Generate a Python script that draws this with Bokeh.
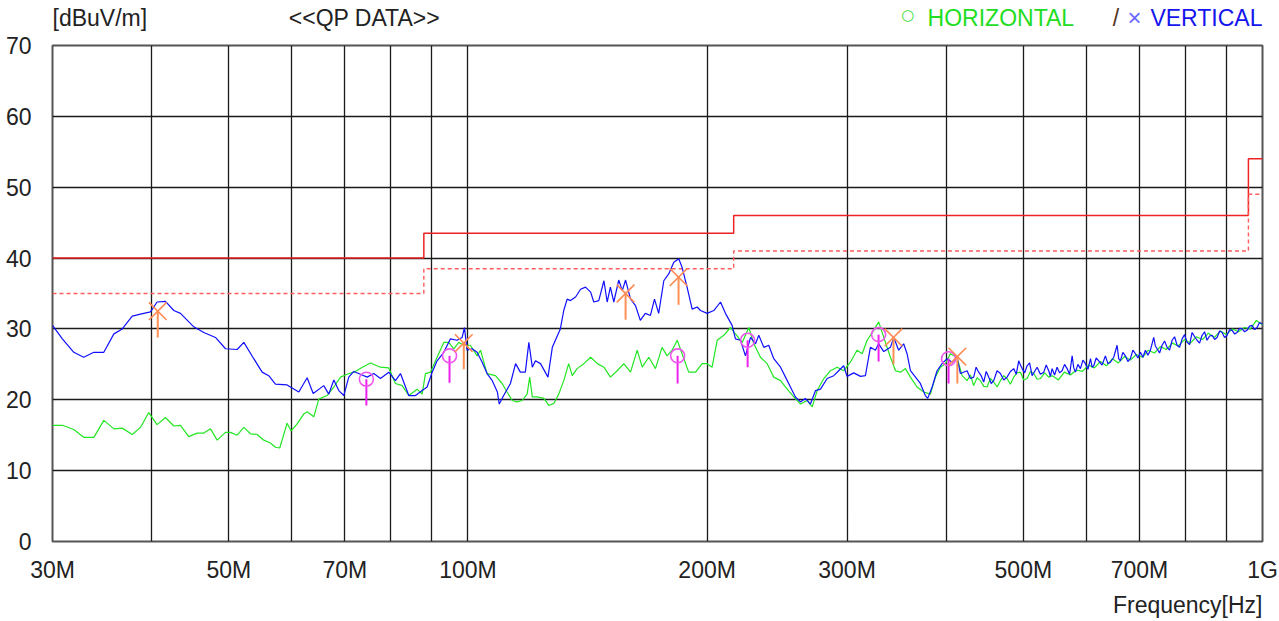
from bokeh.plotting import figure
from bokeh.layouts import column
from bokeh.models import FixedTicker, Title
from bokeh.core.properties import value
from bokeh.embed import file_html
from bokeh.resources import INLINE

# ---------------- data (frequencies in MHz, levels in dBuV/m) ----------------
v_freq = [30.0, 30.87, 31.91, 32.84, 33.82, 34.81, 35.84, 36.72, 37.8, 38.71, 39.85, 40.62, 41.62,
          42.64, 43.47, 45.18, 46.51, 48.11, 49.53, 51.23, 52.23, 53.76, 55.08, 56.14, 57.24, 59.21,
          61.25, 62.75, 63.86, 65.85, 66.81, 67.79, 68.78, 69.78, 70.79, 71.83, 73.23, 74.66, 76.12,
          77.61, 79.49, 81.05, 82.24, 84.24, 85.89, 87.57, 88.84, 90.15, 91.45, 93.23, 95.06, 96.90,
          98.33, 98.99, 99.74, 101.2, 102.7, 104.2, 105.7, 107.3, 108.9, 109.5, 110.9, 113.1, 114.8,
          116.4, 118.1, 119.3, 120.5, 121.6, 123.4, 126.1, 127.7, 130.7, 132.0, 133.3, 134.6, 136.6,
          138.6, 140.6, 142.7, 144.0, 146.1, 148.3, 149.7, 151.1, 152.6, 154.8, 156.4, 157.9, 160.2,
          162.5, 164.8, 167.2, 169.7, 171.7, 173.8, 176.4, 179.0, 181.6, 184.2, 186.0, 188.7, 191.5,
          194.3, 196.2, 200.0, 203.9, 207.9, 210.9, 215.0, 217.1, 220.3, 223.5, 226.8, 230.1, 232.3,
          235.7, 239.1, 242.6, 247.4, 251.0, 254.6, 258.3, 262.1, 265.9, 269.8, 273.8, 277.8, 283.2,
          288.7, 292.8, 297.1, 300.0, 305.9, 311.9, 316.4, 321.0, 325.7, 328.8, 333.7, 340.2, 343.5,
          348.4, 353.5, 357.0, 360.5, 365.8, 371.0, 376.4, 379.0, 383.9, 389.4, 395.1, 400.9, 406.7,
          412.6, 416.7, 424.8, 428.9, 433.0, 436.1, 439.3, 442.5, 445.8, 449.0, 452.3, 455.6, 458.9,
          463.4, 467.9, 472.4, 477.0, 481.6, 486.3, 489.8, 493.4, 495.8, 498.3, 501.9, 505.5, 509.2,
          512.9, 516.6, 520.4, 525.4, 530.5, 534.3, 538.2, 540.8, 543.5, 547.4, 551.4, 555.4, 559.5,
          563.5, 567.6, 571.8, 576.0, 578.7, 581.5, 585.7, 590.0, 594.3, 598.6, 603.0, 607.4, 610.3,
          613.2, 617.6, 622.1, 628.2, 634.3, 638.9, 643.5, 649.8, 656.1, 659.2, 662.4, 667.2, 672.1,
          677.0, 681.9, 686.9, 691.9, 697.0, 702.0, 707.1, 712.2, 717.4, 722.6, 726.1, 729.6, 733.1,
          736.7, 742.1, 747.5, 752.9, 758.4, 763.9, 769.5, 775.1, 780.7, 786.4, 792.2, 797.9, 803.7,
          809.6, 815.5, 821.4, 827.3, 833.3, 839.4, 845.5, 851.6, 857.8, 864.1, 870.4, 876.7, 883.1,
          889.5, 895.9, 902.4, 909.0, 915.7, 922.3, 929.0, 935.8, 942.6, 949.4, 956.2, 963.2, 970.3,
          977.3, 984.4, 991.5, 1000.0]
v_level = [30.5, 28.6, 26.7, 26.0, 26.7, 26.7, 29.3, 30.0, 31.8, 32.1, 32.4, 33.8, 33.9,
           32.6, 32.2, 30.3, 29.5, 28.8, 27.2, 27.1, 28.1, 25.8, 23.9, 23.4, 22.2, 22.1,
           21.1, 23.1, 20.9, 22.0, 20.8, 22.8, 21.3, 20.6, 23.2, 24.0, 23.6, 23.2, 23.7,
           23.0, 23.9, 22.7, 23.7, 20.6, 20.6, 21.3, 21.8, 23.9, 25.5, 26.7, 28.6, 28.4,
           28.8, 30.2, 27.0, 27.2, 26.7, 25.3, 23.7, 22.7, 21.1, 19.4, 20.6, 22.3, 25.1,
           23.9, 23.9, 28.1, 24.6, 25.5, 25.1, 23.2, 27.4, 30.0, 32.6, 34.2, 34.0, 34.5,
           35.6, 35.9, 35.2, 33.8, 34.0, 36.8, 33.8, 35.9, 33.8, 36.9, 35.4, 36.9, 34.2,
           33.3, 31.2, 32.2, 31.9, 34.2, 32.2, 36.8, 37.8, 39.4, 39.9, 38.7, 35.9, 32.8,
           33.1, 32.6, 32.2, 32.6, 33.8, 32.2, 30.5, 28.6, 28.4, 26.2, 28.8, 27.9, 29.1,
           27.4, 27.7, 25.8, 24.6, 23.2, 21.8, 20.4, 19.7, 20.2, 19.4, 21.3, 21.5, 23.0,
           23.4, 24.1, 24.8, 23.3, 23.8, 23.3, 23.4, 27.4, 27.0, 27.9, 26.8, 27.4, 28.8,
           27.0, 27.9, 26.5, 24.1, 23.2, 22.3, 20.6, 20.2, 21.8, 24.1, 25.1, 25.8, 25.3,
           26.0, 23.7, 24.1, 23.0, 23.2, 24.6, 23.9, 23.4, 22.5, 24.0, 23.2, 22.3, 22.7,
           24.1, 23.7, 22.8, 23.2, 24.0, 24.4, 23.6, 25.5, 24.9, 24.4, 23.8, 24.8, 25.2,
           23.4, 24.0, 24.6, 23.6, 23.9, 24.9, 24.1, 23.3, 24.4, 23.5, 24.6, 23.8, 24.1,
           25.0, 24.4, 23.6, 26.2, 24.5, 23.9, 25.0, 24.4, 25.6, 25.1, 24.3, 25.8, 24.6,
           24.8, 25.9, 25.5, 24.9, 26.2, 25.1, 25.3, 26.0, 27.7, 25.8, 25.5, 26.7, 26.2,
           25.4, 25.8, 27.0, 26.5, 25.9, 26.7, 26.0, 27.0, 26.3, 27.0, 27.9, 28.8, 27.6,
           27.2, 26.6, 27.7, 28.3, 27.4, 27.0, 28.4, 28.9, 27.7, 27.4, 28.6, 29.2, 28.1,
           27.8, 29.5, 28.9, 28.4, 28.0, 29.1, 29.6, 28.4, 29.0, 29.1, 28.5, 28.8, 29.7,
           29.5, 28.8, 29.1, 29.9, 29.8, 29.3, 29.5, 30.1, 30.0, 29.6, 29.8, 30.4, 30.5,
           29.9, 30.2, 30.9, 30.7]

h_freq = [30.0, 30.87, 31.91, 32.84, 33.82, 34.81, 35.84, 36.72, 37.8, 38.71, 39.65, 40.62, 41.62,
          42.64, 43.47, 44.52, 45.62, 46.51, 47.42, 48.35, 49.53, 50.25, 51.23, 52.23, 53.25, 54.29,
          55.34, 56.42, 57.24, 57.96, 59.21, 59.91, 60.96, 62.15, 62.75, 63.97, 64.90, 66.49, 67.79,
          69.12, 70.46, 71.83, 73.94, 75.39, 77.61, 79.49, 81.05, 82.65, 84.24, 86.31, 87.57, 88.41,
          89.71, 91.45, 93.23, 94.59, 95.97, 97.37, 98.79, 100.7, 102.7, 103.7, 105.7, 108.3, 110.4,
          112.0, 113.7, 115.3, 117.0, 118.7, 119.6, 120.5, 122.2, 124.6, 126.4, 128.3, 130.1, 132.0,
          133.9, 135.3, 137.2, 139.9, 142.7, 145.5, 148.3, 151.1, 154.1, 157.1, 160.2, 163.3, 165.7,
          168.9, 172.2, 175.5, 178.1, 180.7, 183.4, 186.0, 189.6, 193.4, 197.1, 200.0, 202.9, 205.9,
          209.9, 214.0, 217.1, 221.4, 225.7, 229.0, 233.4, 238.0, 242.6, 247.4, 252.2, 257.1, 262.1,
          267.2, 271.2, 275.1, 280.5, 285.9, 291.5, 297.1, 302.9, 308.8, 313.4, 318.0, 324.1, 328.8,
          333.7, 340.2, 345.2, 350.2, 355.3, 360.5, 367.5, 374.6, 382.0, 387.5, 393.2, 398.9, 404.7,
          412.6, 418.7, 424.8, 429.0, 433.0, 437.2, 441.5, 445.8, 450.1, 454.5, 458.9, 463.4, 467.9,
          472.4, 477.0, 481.6, 486.3, 491.0, 495.8, 500.6, 505.5, 510.4, 515.4, 520.4, 525.4, 531.8,
          538.2, 544.0, 553.5, 563.3, 573.2, 583.2, 593.4, 603.8, 614.4, 625.2, 636.1, 647.3, 658.6,
          670.2, 681.9, 693.9, 706.1, 718.4, 731.0, 743.9, 756.9, 770.2, 783.7, 797.5, 811.5, 825.7,
          840.2, 854.9, 869.9, 885.1, 900.6, 916.5, 932.5, 948.9, 965.6, 982.5, 1000.0]
h_level = [16.4, 16.4, 15.8, 14.7, 14.7, 17.1, 15.9, 16.0, 15.1, 16.1, 18.2, 16.5, 17.5,
           16.3, 16.4, 14.8, 15.3, 15.3, 15.9, 14.3, 15.4, 15.4, 15.0, 16.1, 15.2, 15.1,
           14.3, 13.9, 13.3, 13.2, 16.7, 15.6, 16.6, 18.0, 18.3, 17.6, 20.1, 20.6, 21.8,
           23.2, 23.6, 23.9, 24.7, 25.2, 24.6, 24.5, 22.3, 22.0, 20.6, 21.5, 20.8, 23.7,
           23.9, 26.0, 28.1, 28.1, 27.2, 28.1, 27.7, 27.7, 26.2, 27.0, 23.7, 23.4, 22.3,
           21.1, 19.9, 19.7, 19.9, 20.8, 23.2, 20.4, 20.4, 20.2, 19.2, 19.5, 20.8, 22.7,
           25.1, 23.4, 24.4, 25.1, 26.0, 25.1, 24.6, 23.2, 24.1, 25.1, 23.9, 27.0, 24.6,
           26.0, 24.4, 27.4, 26.2, 27.0, 28.4, 26.5, 23.9, 23.9, 25.1, 25.1, 24.6, 28.4,
           29.1, 30.2, 29.3, 28.1, 30.2, 27.9, 26.0, 25.1, 23.2, 22.7, 21.5, 20.4, 19.4,
           19.9, 19.0, 21.3, 23.0, 24.1, 24.6, 24.1, 25.3, 27.0, 26.5, 28.4, 29.8, 31.0,
           28.8, 26.0, 24.1, 23.9, 24.4, 23.2, 21.8, 21.1, 20.8, 23.2, 24.6, 25.1, 26.5,
           26.0, 23.4, 22.7, 23.5, 22.0, 23.1, 22.7, 21.9, 21.8, 23.0, 22.5, 21.8, 22.7,
           23.4, 23.0, 22.2, 23.2, 23.8, 23.9, 22.8, 23.0, 24.0, 23.7, 22.9, 23.0, 23.8,
           23.2, 23.4, 22.8, 23.9, 23.5, 24.2, 24.0, 24.9, 24.5, 25.4, 24.8, 25.8, 25.2,
           26.1, 25.6, 26.4, 26.0, 27.0, 26.6, 27.5, 27.1, 28.0, 27.6, 28.5, 28.0, 28.9,
           28.5, 29.4, 28.8, 29.7, 29.2, 30.0, 29.6, 30.2, 30.0, 31.2, 30.6]

# final QP readings (marker level and lower end of the reading bar)
h_qp_freq = [74.5, 94.8, 183.6, 224.9, 328.7, 402.6]
h_qp_level = [22.9, 26.2, 26.2, 28.4, 29.2, 25.8]
h_qp_low = [19.2, 22.4, 22.3, 24.6, 25.4, 22.3]
v_qp_freq = [40.7, 98.8, 157.9, 184.1, 343.2, 413.0]
v_qp_level = [32.5, 28.0, 35.0, 37.3, 28.8, 26.1]
v_qp_low = [28.8, 24.3, 31.3, 33.4, 25.0, 22.3]

# limit lines
limit_edges = [30, 88, 216, 960, 1000]
limit_qp = [40, 43.5, 46, 54]
limit_margin = [35, 38.5, 41, 49]

x_ticks = [30, 40, 50, 60, 70, 80, 90, 100, 200, 300, 400, 500, 600, 700, 800, 900, 1000]
x_tick_text = {30: "30M", 50: "50M", 70: "70M", 100: "100M", 200: "200M",
               300: "300M", 500: "500M", 700: "700M", 1000: "1G"}
y_ticks = [0, 10, 20, 30, 40, 50, 60, 70]

# ---------------- main figure ----------------
FONT = "Liberation Sans"
FS = "23px"
TXT = "#222222"
HDR_H = 31

p = figure(width=1279, height=621 - HDR_H, x_axis_type="log", x_range=(30, 1000), y_range=(0, 70),
           output_backend="svg", toolbar_location=None,
           min_border_left=52, min_border_right=17, min_border_top=45 - HDR_H, min_border_bottom=80)
p.background_fill_color = "white"
p.border_fill_color = "white"
p.outline_line_color = "#555555"
p.outline_line_width = 2

p.xaxis.ticker = FixedTicker(ticks=x_ticks, minor_ticks=[])
p.xaxis.major_label_overrides = {t: x_tick_text.get(t, "") for t in x_ticks}
p.yaxis.ticker = FixedTicker(ticks=y_ticks, minor_ticks=[])
for ax in (p.xaxis[0], p.yaxis[0]):
    ax.axis_line_color = None
    ax.major_tick_line_color = None
    ax.minor_tick_line_color = None
    ax.major_label_text_font = FONT
    ax.major_label_text_font_size = FS
    ax.major_label_text_color = TXT
p.xaxis.major_label_standoff = 9
p.yaxis.major_label_standoff = 15

for g in (p.xgrid[0], p.ygrid[0]):
    g.grid_line_color = "#1a1a1a"
    g.grid_line_width = 1.3
    g.level = "underlay"

p.add_layout(Title(text="Frequency[Hz]", align="right", text_font=FONT, text_font_size=FS,
                   text_font_style="normal", text_color=TXT, standoff=8), "below")


def steps(edges, vals):
    xs, ys = [], []
    for i, v in enumerate(vals):
        xs += [edges[i], edges[i + 1]]
        ys += [v, v]
    return xs, ys


lx, ly = steps(limit_edges, limit_qp)
p.line(lx, ly, line_color="#ee2222", line_width=1.5)
mx, my = steps(limit_edges, limit_margin)
p.line(mx, my, line_color="#ff5c5c", line_width=1.4, line_dash="4 3")

# traces
p.line(h_freq, h_level, line_color="#22e622", line_width=1.2)
p.line(v_freq, v_level, line_color="#1010ff", line_width=1.2)

# QP readings
p.segment(x0=h_qp_freq, y0=h_qp_level, x1=h_qp_freq, y1=h_qp_low, line_color="#ee22ee", line_width=2)
p.scatter(h_qp_freq, h_qp_level, marker="circle", size=14, fill_color=None,
          line_color="#ee55ee", line_width=1.6)
p.segment(x0=v_qp_freq, y0=v_qp_level, x1=v_qp_freq, y1=v_qp_low, line_color="#ff9055", line_width=2)
p.scatter(v_qp_freq, v_qp_level, marker="x", size=25, line_color="#ff8a55", line_width=1.6)

# ---------------- header strip (shares the frequency scale) ----------------
hdr = figure(width=1279, height=HDR_H, x_axis_type="log", x_range=p.x_range, y_range=(0, HDR_H),
             output_backend="svg", toolbar_location=None, x_axis_location=None, y_axis_location=None,
             min_border_left=52, min_border_right=17, min_border_top=0, min_border_bottom=0)
hdr.outline_line_color = None
hdr.grid.visible = False
hdr.background_fill_color = "white"
hdr.border_fill_color = "white"

ty = HDR_H - 17.5


def htext(x, text, color=TXT, size=FS, align="left", font=FONT, dy=0.0):
    hdr.text(x=[x], y=[ty + dy], text=[text], text_color=color, text_font=value(font),
             text_font_size=size, text_align=align, text_baseline="middle")


htext(30, "[dBuV/m]")
htext(59.5, "<<QP DATA>>")
htext(357.7, "\u25cb", color="#33dd33", size="15px", align="center", font="DejaVu Sans", dy=3)
htext(378.9, "HORIZONTAL", color="#22dd22")
htext(647.8, "/", color="#553322")
htext(690.0, "\u00d7", color="#6a6aff", size="24px", align="center", dy=1)
htext(1000, "VERTICAL", color="#1515ee", align="right")

layout = column(hdr, p, spacing=0)
open("out.html", "w").write(file_html(layout, INLINE))
